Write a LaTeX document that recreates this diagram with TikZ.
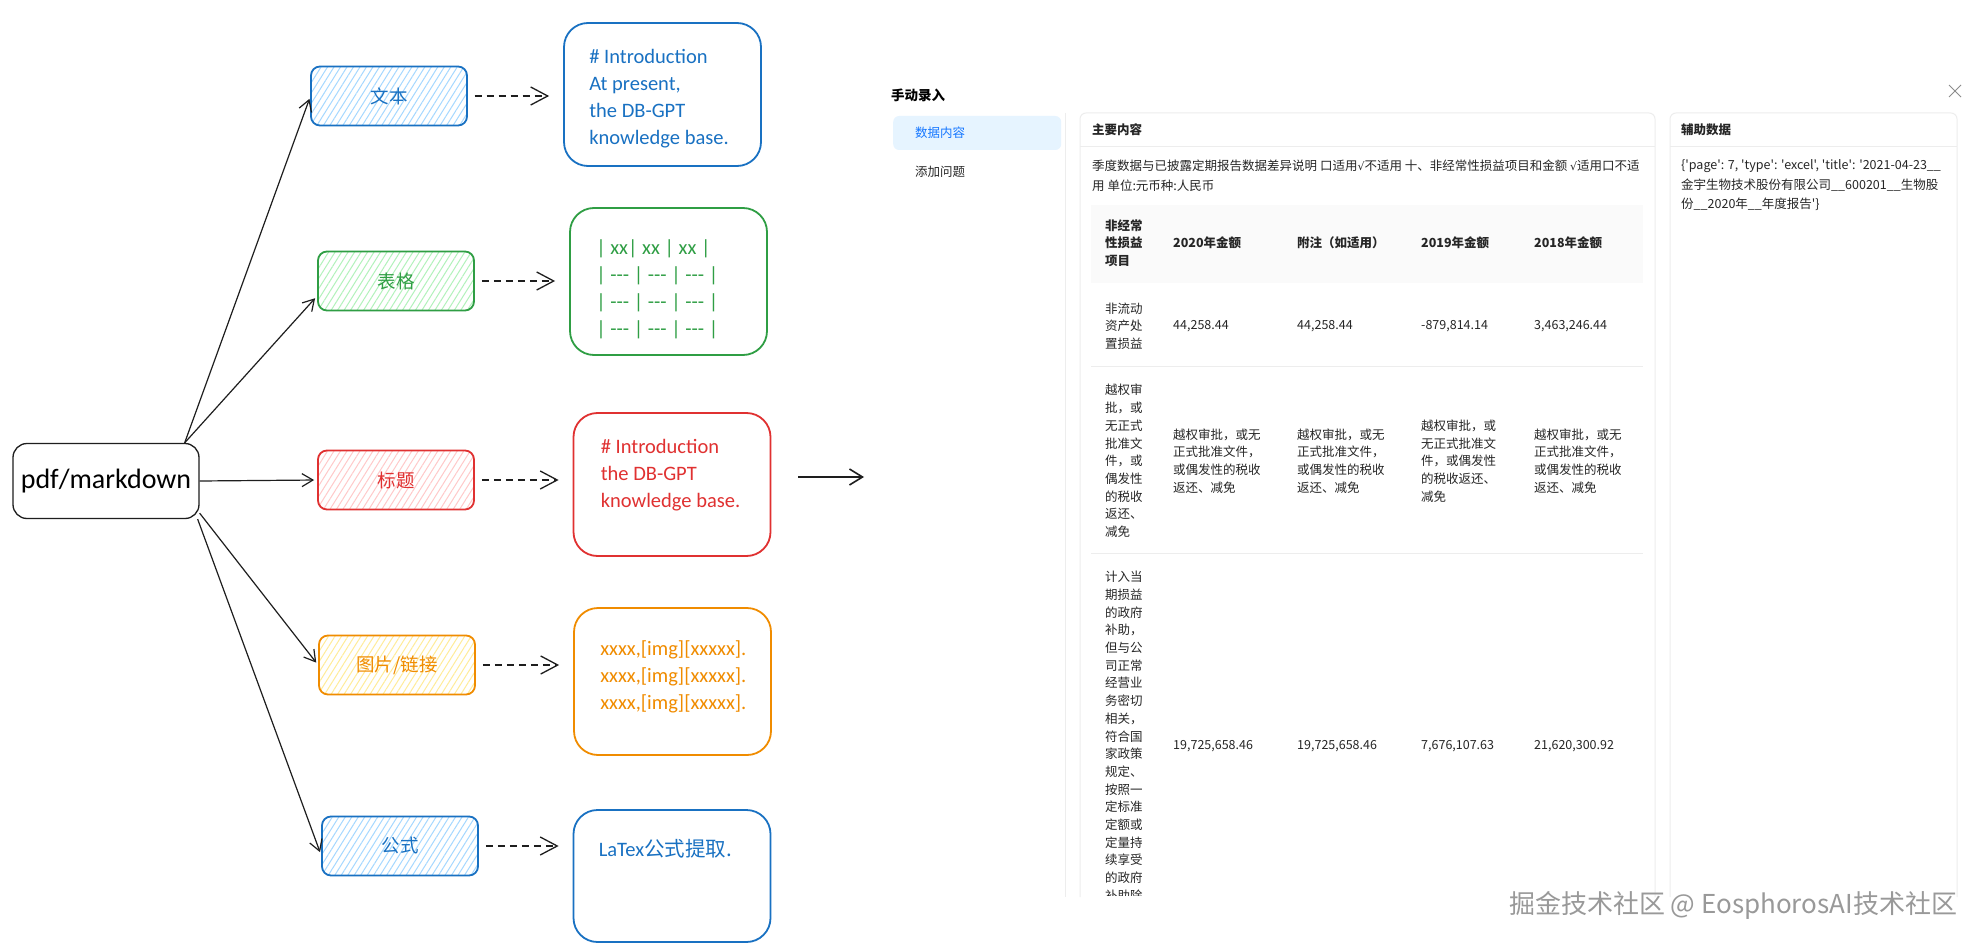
\documentclass[tikz,border=0pt]{standalone}
\usepackage{fontspec}
\newfontfamily\hand{Carlito}
\newfontfamily\cjk{Noto Sans CJK SC}
\newfontfamily\symb{DejaVu Sans}
\usetikzlibrary{arrows.meta, patterns.meta}

\definecolor{inkblue}{HTML}{1971C2}
\definecolor{inkgreen}{HTML}{2F9E44}
\definecolor{inkred}{HTML}{E03131}
\definecolor{inkorange}{HTML}{F08C00}
\definecolor{hatchblue}{HTML}{A5D8FF}
\definecolor{hatchgreen}{HTML}{B2F2BB}
\definecolor{hatchred}{HTML}{FFC9C9}
\definecolor{hatchorange}{HTML}{FFEC99}
\definecolor{ink}{HTML}{1E1E1E}
\definecolor{uitext}{HTML}{262626}
\definecolor{uiline}{HTML}{EDEDED}
\definecolor{uihead}{HTML}{FAFAFA}
\definecolor{uitab}{HTML}{E6F4FF}
\definecolor{uiblue}{HTML}{1677FF}

\newcommand{\chk}{{\symb\fontsize{11}{12}\selectfont √}}

\begin{document}
\begin{tikzpicture}[x=1pt, y=-1pt,
  kind/.style 2 args={draw=#1, line width=1.8pt, rounded corners=9pt,
    minimum width=156pt, minimum height=59pt, text=#1,
    pattern={Lines[angle=58, distance=5.5pt, line width=1pt]}, pattern color=#2,
    font=\cjk\fontsize{18.5}{20}\selectfont},
  outbox/.style={draw=#1, line width=1.8pt, rounded corners=24pt, minimum width=197pt},
  outtext/.style={text=#1, anchor=north west, align=left, inner sep=0pt,
    font=\hand\fontsize{20.5}{27}\selectfont},
  feed/.style={draw=ink, line width=1.2pt, -{Straight Barb[length=11pt, width=13pt]}, shorten >=3pt},
  dashto/.style={draw=ink, line width=1.3pt, dash pattern=on 7pt off 5pt,
    -{Straight Barb[length=17pt, width=18pt]}, shorten <=7pt, shorten >=14pt},
  cell/.style={anchor=west, align=left, inner sep=0pt, text=uitext,
    font=\cjk\fontsize{12.5}{17.7}\selectfont},
  hcell/.style={cell, font=\cjk\bfseries\fontsize{12.5}{17.7}\selectfont},
  sepline/.style={draw=uiline, line width=1pt}
]
  \path[fill=white, use as bounding box] (0,0) rectangle (1978,944);

  % source and the five kinds of content
  \node[draw=ink, line width=1.3pt, rounded corners=14pt, minimum width=186pt, minimum height=75pt,
    font=\hand\fontsize{28}{30}\selectfont] (src) at (106,481) {pdf/markdown};
  \node[kind={inkblue}{hatchblue}]     (txt) at (389,96)  {文本};
  \node[kind={inkgreen}{hatchgreen}]   (tbl) at (396,281) {表格};
  \node[kind={inkred}{hatchred}]       (ttl) at (396,480) {标题};
  \node[kind={inkorange}{hatchorange}] (img) at (397,665) {图片/链接};
  \node[kind={inkblue}{hatchblue}]     (eq)  at (400,846) {公式};

  % what each kind turns into
  \node[outbox=inkblue, minimum height=143pt]   (outTxt) at (662.5,94.5) {};
  \node[outbox=inkgreen, minimum height=147pt]  (outTbl) at (668.5,281.5) {};
  \node[outbox=inkred, minimum height=143pt]    (outTtl) at (672,484.5) {};
  \node[outbox=inkorange, minimum height=147pt] (outImg) at (672.5,681.5) {};
  \node[outbox=inkblue, minimum height=132pt]   (outEq)  at (672,876) {};

  \node[outtext=inkblue] (outTxtBody) at ([xshift=26pt, yshift=-27pt]outTxt.north west)
    {\# Introduction\\At present,\\the DB-GPT\\knowledge base.};
  \node[outtext=inkgreen] (outTblBody) at ([xshift=27pt, yshift=-32pt]outTbl.north west)
    {| xx| xx | xx |\\| --- | --- | --- |\\| --- | --- | --- |\\| --- | --- | --- |};
  \node[outtext=inkred] (outTtlBody) at ([xshift=28pt, yshift=-27pt]outTtl.north west)
    {\# Introduction\\the DB-GPT\\knowledge base.};
  \node[outtext=inkorange] (outImgBody) at ([xshift=27pt, yshift=-33pt]outImg.north west)
    {xxxx,[img][xxxxx].\\xxxx,[img][xxxxx].\\xxxx,[img][xxxxx].};
  \node[outtext=inkblue] (outEqBody) at ([xshift=26pt, yshift=-30pt]outEq.north west)
    {LaTex{\cjk 公式提取.}};

  \draw[feed] ([xshift=-15pt]src.north east) -- (txt.west);
  \draw[feed] ([xshift=-15pt]src.north east) -- ([yshift=-15pt]tbl.west);
  \draw[feed] (src.east) -- (ttl.west);
  \draw[feed] ([yshift=6pt]src.south east) -- (img.west);
  \draw[feed] ([xshift=-2pt]src.south east) -- ([yshift=-9pt]eq.west);

  \draw[dashto] (txt.east) -- (txt.east -| outTxt.west);
  \draw[dashto] (tbl.east) -- (tbl.east -| outTbl.west);
  \draw[dashto] (ttl.east) -- (ttl.east -| outTtl.west);
  \draw[dashto] (img.east) -- (img.east -| outImg.west);
  \draw[dashto] (eq.east) -- (eq.east -| outEq.west);

  \coordinate (flowA) at (798,477);
  \coordinate (flowB) at (864,477);
  \draw[draw=ink, line width=1.6pt, -{Straight Barb[length=13pt, width=16pt]}] (flowA) -- (flowB);

  % the entry dialog
  \node[anchor=west, inner sep=0pt, font=\cjk\bfseries\fontsize{13.5}{16}\selectfont] (dlgTitle) at (891,95) {手动录入};
  \draw[black!45, line width=1pt] (1949,85) -- (1961,97) (1949,97) -- (1961,85);

  \node[fill=uitab, rounded corners=6pt, anchor=west, minimum height=34pt, text width=124pt,
    inner xsep=22pt, align=left, text=uiblue, font=\cjk\fontsize{12.5}{15}\selectfont] (tabData) at (893,133) {数据内容};
  \node[cell] (tabAsk) at (915,172) {添加问题};

  \draw[sepline] (1065,113) -- (1065,897);
  \draw[sepline, rounded corners=6pt] (1080,897) -- (1080,113) -- (1655,113) -- (1655,897);
  \draw[sepline] (1080,147) -- (1655,147);
  \node[hcell] (mainHead) at (1092,130) {主要内容};
  \node[cell, font=\cjk\fontsize{12.5}{20}\selectfont] (mainIntro) at (1092,176)
    {季度数据与已披露定期报告数据差异说明 口适用\chk 不适用 十、非经常性损益项目和金额 \chk 适用口不适\\用 单位:元币种:人民币};

  \fill[uihead] (1091,205) rectangle (1643,283);
  \node[hcell] (h0) at (1105,243) {非经常\\性损益\\项目};
  \node[hcell] (h1) at (1173,243) {2020年金额};
  \node[hcell] (h2) at (1297,243) {附注（如适用）};
  \node[hcell] (h3) at (1421,243) {2019年金额};
  \node[hcell] (h4) at (1534,243) {2018年金额};

  \node[cell] (r1c0) at (1105,326) {非流动\\资产处\\置损益};
  \node[cell] (r1c1) at (1173,326) {44,258.44};
  \node[cell] (r1c2) at (1297,326) {44,258.44};
  \node[cell] (r1c3) at (1421,326) {-879,814.14};
  \node[cell] (r1c4) at (1534,326) {3,463,246.44};
  \draw[sepline] (1091,366) -- (1643,366);

  \node[cell] (r2c0) at (1105,461) {越权审\\批，或\\无正式\\批准文\\件，或\\偶发性\\的税收\\返还、\\减免};
  \node[cell] (r2c1) at (1173,461) {越权审批，或无\\正式批准文件，\\或偶发性的税收\\返还、减免};
  \node[cell] (r2c2) at (1297,461) {越权审批，或无\\正式批准文件，\\或偶发性的税收\\返还、减免};
  \node[cell] (r2c3) at (1421,461) {越权审批，或\\无正式批准文\\件，或偶发性\\的税收返还、\\减免};
  \node[cell] (r2c4) at (1534,461) {越权审批，或无\\正式批准文件，\\或偶发性的税收\\返还、减免};
  \draw[sepline] (1091,553) -- (1643,553);

  \begin{scope}
    \clip (1090,560) rectangle (1170,895);
    \node[cell, anchor=north west] (r3c0) at (1105,571)
      {计入当\\期损益\\的政府\\补助，\\但与公\\司正常\\经营业\\务密切\\相关，\\符合国\\家政策\\规定、\\按照一\\定标准\\定额或\\定量持\\续享受\\的政府\\补助除};
  \end{scope}
  \node[cell] (r3c1) at (1173,746) {19,725,658.46};
  \node[cell] (r3c2) at (1297,746) {19,725,658.46};
  \node[cell] (r3c3) at (1421,746) {7,676,107.63};
  \node[cell] (r3c4) at (1534,746) {21,620,300.92};

  \draw[sepline, rounded corners=6pt] (1670,897) -- (1670,113) -- (1957,113) -- (1957,897);
  \draw[sepline] (1670,147) -- (1957,147);
  \node[hcell] (auxHead) at (1681,130) {辅助数据};
  \node[cell, font=\cjk\fontsize{12.5}{19.5}\selectfont] (auxBody) at (1681,185.5)
    {\{'page': 7, 'type': 'excel', 'title': '2021-04-23\_\_\\金宇生物技术股份有限公司\_\_600201\_\_生物股\\份\_\_2020年\_\_年度报告'\}};

  \node[font=\cjk\fontsize{26}{28}\selectfont, text=black!40] (mark) at (1733,905) {掘金技术社区 @ EosphorosAI技术社区};
\end{tikzpicture}
\end{document}
